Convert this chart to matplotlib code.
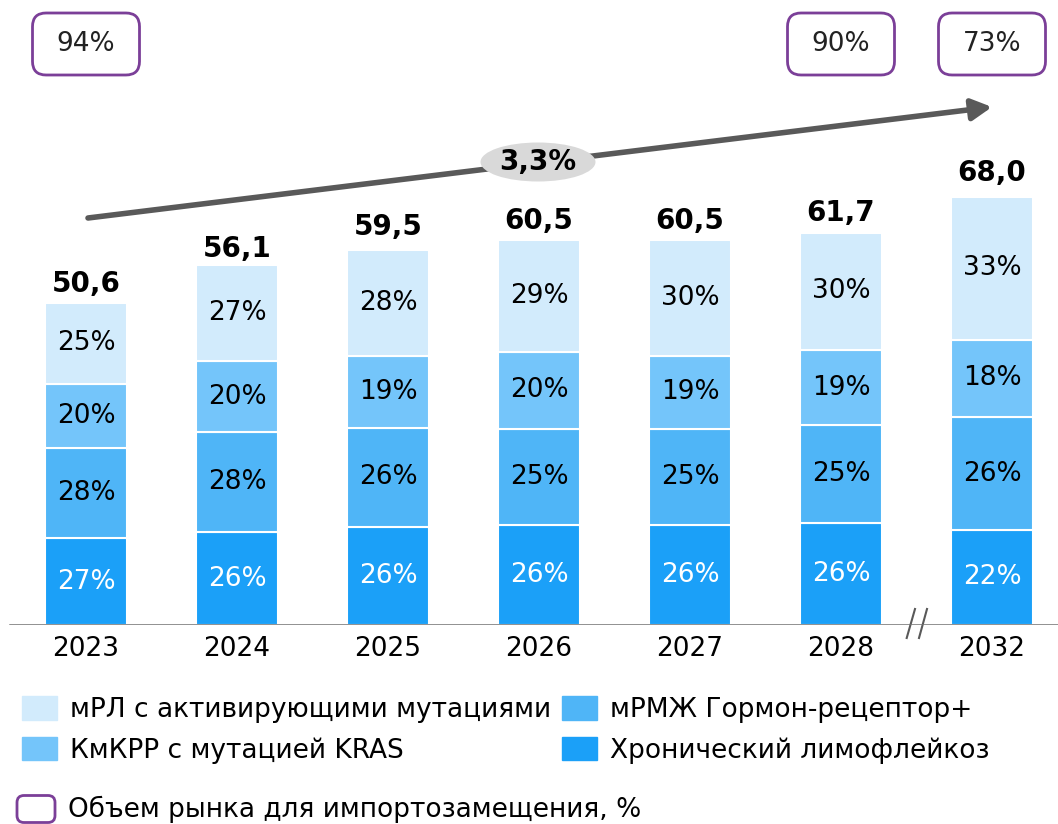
import numpy as np
import matplotlib.pyplot as plt
from matplotlib.patches import Patch, Ellipse, FancyBboxPatch

# data
years = ['2023', '2024', '2025', '2026', '2027', '2028', '2032']
totals = [50.6, 56.1, 59.5, 60.5, 60.5, 61.7, 68.0]
# shares, %, bottom -> top
share_cll = [27, 26, 26, 26, 26, 26, 22]     # Хронический лимфолейкоз
share_brc = [28, 28, 26, 25, 25, 25, 26]     # мРМЖ Гормон-рецептор+
share_crc = [20, 20, 19, 20, 19, 19, 18]     # КмКРР с мутацией KRAS
share_lung = [25, 27, 28, 29, 30, 30, 33]    # мРЛ с активирующими мутациями
import_years = ['2023', '2028', '2032']
import_share = [94, 90, 73]
cagr = '3,3%'

labels = ['мРЛ с активирующими мутациями', 'КмКРР с мутацией KRAS',
          'мРМЖ Гормон-рецептор+', 'Хронический лимофлейкоз']
c_lung, c_crc, c_brc, c_cll = '#d2ebfc', '#74c5fa', '#4fb5f7', '#1ba0f8'
purple = '#7b3f98'

plt.rcParams['font.family'] = ['DejaVu Sans']

fig = plt.figure(figsize=(10.58, 8.24), dpi=100)
ax = fig.add_axes([0, 199 / 824, 1, 625 / 824])
PXX, PXY = 151, 6.36   # pixels per x unit / y unit
ax.set_xlim(-86 / PXX, (1058 - 86) / PXX)
ax.set_ylim(0, 625 / PXY)


def px(x, y):
    return (x - 86) / PXX, (625 - y) / PXY


x = np.arange(len(years))
tot = np.array(totals)
bottom = np.zeros(len(years))
stack = [(share_cll, c_cll, 'white'), (share_brc, c_brc, 'black'),
         (share_crc, c_crc, 'black'), (share_lung, c_lung, 'black')]
for shares, col, tcol in stack:
    h = tot * np.array(shares) / 100
    ax.bar(x, h, bottom=bottom, width=0.543, color=col, edgecolor='white', linewidth=1.5)
    for xi, b, hh, s in zip(x, bottom, h, shares):
        ax.text(xi, b + hh / 2, f'{s}%', ha='center', va='center', fontsize=19, color=tcol)
    bottom = bottom + h

for xi, t in zip(x, totals):
    ax.annotate(f'{t:.1f}'.replace('.', ','), (xi, t), xytext=(0, 14), textcoords='offset points',
                ha='center', va='center', fontsize=20, fontweight='bold')

ax.set_xticks(x)
ax.set_xticklabels(years, fontsize=19)
ax.tick_params(axis='x', length=0, pad=8)
ax.set_yticks([])
for s in ax.spines.values():
    s.set_visible(False)
ax.axhline(0, xmin=10 / 1058, xmax=1, color='#707070', lw=1.8, zorder=3)

# axis break between 2028 and 2032
for x0, x1 in [(906.7, 915), (919, 927)]:
    a, b = px(x0, 638), px(x1, 609)
    ax.plot([a[0], b[0]], [a[1], b[1]], color='#595959', lw=1.5, clip_on=False)

# CAGR arrow
ax.annotate('', xy=px(992, 107), xytext=px(88, 218),
            arrowprops=dict(arrowstyle='-|>,head_length=0.6,head_width=0.32', mutation_scale=20,
                            lw=4, color='#595959', shrinkA=0, shrinkB=0))
ex, ey = px(538, 162)
ax.add_patch(Ellipse((ex, ey), 115 / PXX, 39 / PXY, facecolor='#d9d9d9', edgecolor='none', zorder=5))
ax.text(ex, ey, cagr, ha='center', va='center', fontsize=20, fontweight='bold', zorder=6)

# import substitution boxes
by = (625 - 44) / PXY
bw, bh = 107 / PXX, 62 / PXY
for yr, v in zip(import_years, import_share):
    xi = years.index(yr)
    ax.add_patch(FancyBboxPatch((xi - bw / 2, by - bh / 2), bw, bh,
                                boxstyle='round,pad=0,rounding_size=0.09', mutation_aspect=PXX / PXY,
                                facecolor='white', edgecolor=purple, lw=2, clip_on=False))
    ax.text(xi, by, f'{v}%', ha='center', va='center', fontsize=19, color='#222222')

handles = [Patch(color=c) for c in (c_lung, c_crc, c_brc, c_cll)]
fig.legend(handles, labels, ncol=2, loc='upper left', bbox_to_anchor=(22 / 1058, 0.155),
           frameon=False, fontsize=19, handlelength=1.33, handleheight=0.98, handletextpad=0.5,
           columnspacing=0.4, labelspacing=0.54, borderpad=0, borderaxespad=0)

fig.patches.append(FancyBboxPatch((0.17, 0.015), 0.38, 0.27, boxstyle='round,pad=0,rounding_size=0.07',
                                  facecolor='white', edgecolor=purple, lw=2,
                                  transform=fig.dpi_scale_trans, figure=fig))
fig.text(68 / 1058, 15 / 824, 'Объем рынка для импортозамещения, %', fontsize=19, va='center')

fig.savefig('out.png', dpi=100)
